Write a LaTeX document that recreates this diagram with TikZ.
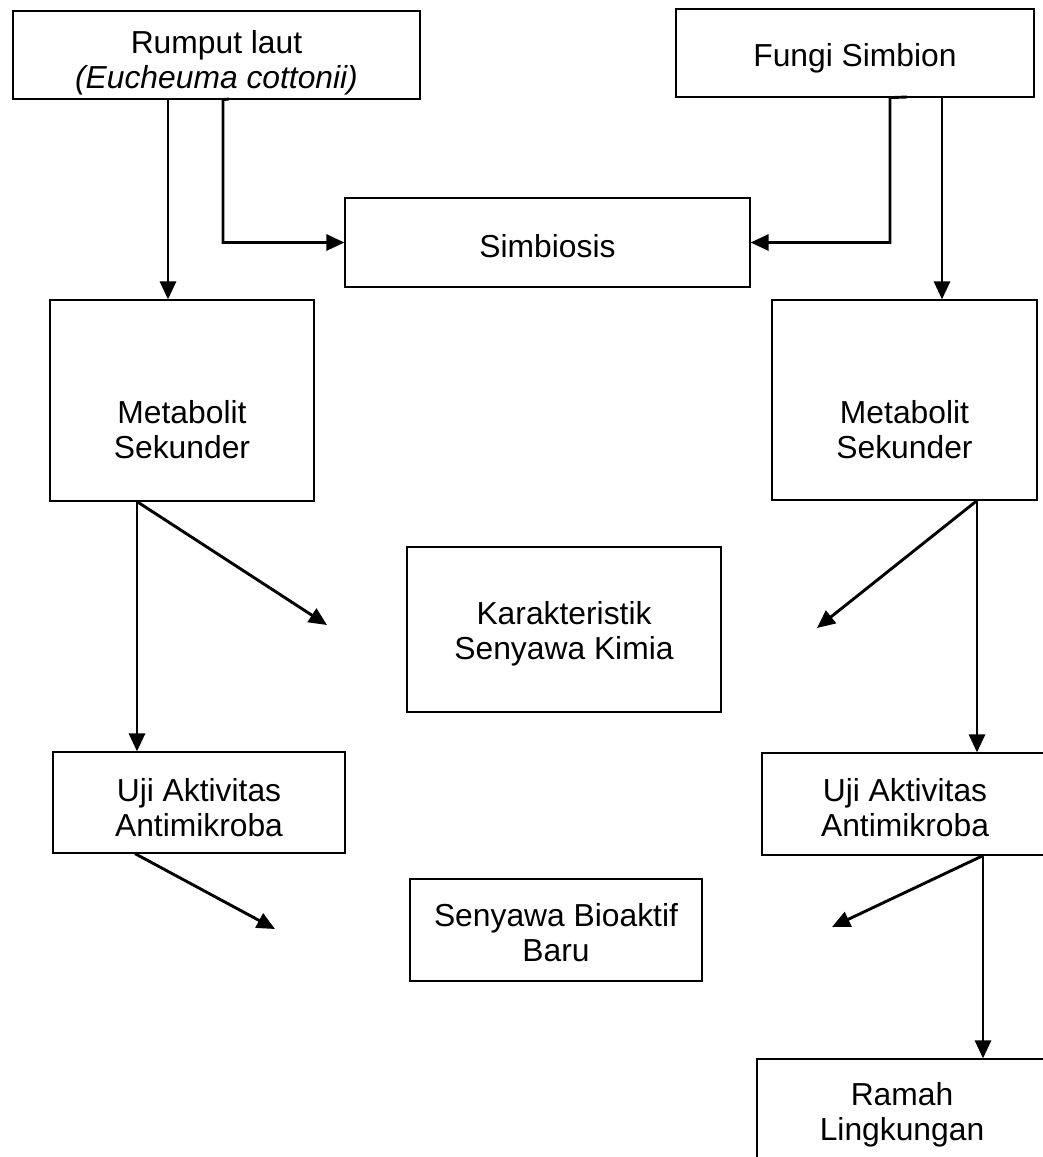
\documentclass[tikz,border=0pt]{standalone}
\usepackage{fontspec}
\setmainfont{Liberation Sans}
\usetikzlibrary{arrows.meta}
\begin{document}
\begin{tikzpicture}[x=1pt,y=-1pt,
  box/.style={draw, line width=1.2pt, inner sep=0pt},
  txt/.style={align=center, inner sep=0pt, font=\fontsize{31.8}{35}\selectfont},
  conn/.style={line width=2.9pt},
  arr/.style={conn, -{Triangle[length=18pt,width=16pt]}}]
\useasboundingbox (0,0) rectangle (1043,1157);
\clip (0,0) rectangle (1043,1157);
% boxes
\node[box, minimum width=407pt, minimum height=88pt] (rl) at (216.5,55) {};
\node[box, minimum width=358pt, minimum height=88pt] (fs) at (855,53) {};
\node[box, minimum width=405pt, minimum height=89pt] (sb) at (547.5,242.5) {};
\node[box, minimum width=264pt, minimum height=201pt] (ml) at (182,400.5) {};
\node[box, minimum width=265pt, minimum height=200pt] (mr) at (904.5,400) {};
\node[box, minimum width=314pt, minimum height=165pt] (kk) at (564,629.5) {};
\node[box, minimum width=292pt, minimum height=101pt] (ul) at (199,802.5) {};
\node[box, minimum width=286pt, minimum height=102pt] (ur) at (905,804) {};
\node[box, minimum width=292pt, minimum height=102pt] (sn) at (556,930) {};
\node[box, minimum width=290pt, minimum height=107pt] (rm) at (902,1112.5) {};
% texts
\node[txt] (rl-t) at (216.5,62.5) {Rumput laut\\\textit{(Eucheuma cottonii)}};
\node[txt] (fs-t) at (855,58) {Fungi Simbion};
\node[txt] (sb-t) at (547.5,246) {Simbiosis};
\node[txt] (ml-t) at (182,430) {Metabolit\\Sekunder};
\node[txt] (mr-t) at (904.5,430) {Metabolit\\Sekunder};
\node[txt] (kk-t) at (564,633.5) {Karakteristik\\Senyawa Kimia};
\node[txt] (ul-t) at (199,807.5) {Uji Aktivitas\\Antimikroba};
\node[txt] (ur-t) at (905,808) {Uji Aktivitas\\Antimikroba};
\node[txt] (sn-t) at (556,933) {Senyawa Bioaktif\\Baru};
\node[txt] (rm-t) at (902,1115) {Ramah\\Lingkungan};
% helper coordinates
\coordinate (c1) at (168,0);
\coordinate (c2) at (223,0);
\coordinate (t1) at (229,99);
\coordinate (c3) at (890,0);
\coordinate (t2) at (907,97);
\coordinate (c4) at (942,0);
\coordinate (c5) at (137,0);
\coordinate (c6) at (977,0);
\coordinate (c7) at (135,0);
\coordinate (c8) at (983,0);
\coordinate (d1) at (327,625);
\coordinate (d2) at (817,628);
\coordinate (d3) at (275,929);
\coordinate (d4) at (832,927);
% connectors
\draw[arr] (rl.south -| c1) -- (ml.north -| c1);
\draw[arr] (t1) -- (rl.south -| c2) -- (sb.west -| c2) -- (sb.west);
\draw[arr] (t2) -- (fs.south -| c3) -- (sb.east -| c3) -- (sb.east);
\draw[arr] (fs.south -| c4) -- (mr.north -| c4);
\draw[arr] (ml.south -| c5) -- (ul.north -| c5);
\draw[arr] (ml.south -| c5) -- (d1);
\draw[arr] (mr.south -| c6) -- (ur.north -| c6);
\draw[arr] (mr.south -| c6) -- (d2);
\draw[arr] (ul.south -| c7) -- (d3);
\draw[arr] (ur.south -| c8) -- (d4);
\draw[arr] (ur.south -| c8) -- (rm.north -| c8);
\end{tikzpicture}
\end{document}
